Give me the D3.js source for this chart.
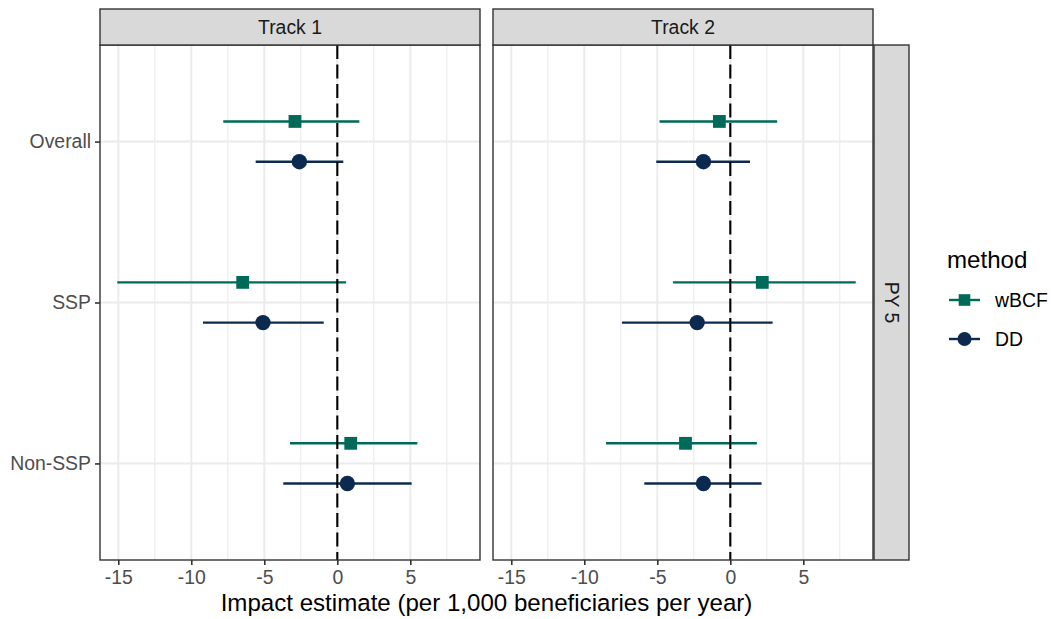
<!DOCTYPE html>
<html>
<head>
<meta charset="utf-8">
<script src="https://cdn.jsdelivr.net/npm/d3@7"></script>
<style>
  html, body { margin: 0; padding: 0; background: #ffffff; }
  svg { display: block; }
  text { font-family: "Liberation Sans", Arial, Helvetica, sans-serif; }
</style>
</head>
<body>
<svg id="chart" width="1051" height="619"></svg>
<script>
// ---------- data ----------
const tracks = ["Track 1", "Track 2"];
const rowStrip = "PY 5";
const categories = ["Overall", "SSP", "Non-SSP"];
const methods = ["wBCF", "DD"];
const xTicks = [-15, -10, -5, 0, 5];
const xMinorTicks = [-12.5, -7.5, -2.5, 2.5, 7.5];

// Track 1
const t1_wBCF_est = [-2.90, -6.48, 0.92];
const t1_wBCF_lo  = [-7.81, -15.07, -3.24];
const t1_wBCF_hi  = [1.51, 0.60, 5.48];
const t1_DD_est   = [-2.60, -5.09, 0.69];
const t1_DD_lo    = [-5.59, -9.20, -3.70];
const t1_DD_hi    = [0.41, -0.93, 5.09];
// Track 2
const t2_wBCF_est = [-0.75, 2.19, -3.07];
const t2_wBCF_lo  = [-4.85, -3.93, -8.51];
const t2_wBCF_hi  = [3.21, 8.59, 1.82];
const t2_DD_est   = [-1.84, -2.27, -1.84];
const t2_DD_lo    = [-5.07, -7.42, -5.89];
const t2_DD_hi    = [1.35, 2.90, 2.14];

const xTitle = "Impact estimate (per 1,000 beneficiaries per year)";
const legendTitle = "method";
const colors = { wBCF: "#006a59", DD: "#0c2a50" };

// ---------- build rows ----------
const series = {
  "Track 1": { wBCF: [t1_wBCF_est, t1_wBCF_lo, t1_wBCF_hi], DD: [t1_DD_est, t1_DD_lo, t1_DD_hi] },
  "Track 2": { wBCF: [t2_wBCF_est, t2_wBCF_lo, t2_wBCF_hi], DD: [t2_DD_est, t2_DD_lo, t2_DD_hi] }
};
const rows = [];
tracks.forEach(t => methods.forEach(m => categories.forEach((c, i) => {
  const s = series[t][m];
  rows.push({ track: t, method: m, cat: c, est: s[0][i], lo: s[1][i], hi: s[2][i] });
})));

// ---------- layout ----------
const svg = d3.select("#chart");
const panelTop = 45, panelBottom = 560, panelW = 380;
const panelX = [100, 493];
const stripTop = 9;
const fontTick = 19.4, fontTitle = 24.1;

const allLo = d3.min(rows, d => d.lo), allHi = d3.max(rows, d => d.hi);
const pad = (allHi - allLo) * 0.05;
const xDomain = [allLo - pad, allHi + pad];

const y = d3.scalePoint().domain(categories).range([panelTop, panelBottom]).padding(0.6);
const dodge = { wBCF: -0.125 * y.step(), DD: 0.125 * y.step() };

tracks.forEach((t, pi) => {
  const x0 = panelX[pi];
  const x = d3.scaleLinear().domain(xDomain).range([x0, x0 + panelW]);
  const g = svg.append("g");

  g.append("rect").attr("x", x0).attr("y", panelTop).attr("width", panelW)
    .attr("height", panelBottom - panelTop).attr("fill", "#ffffff");

  g.selectAll(".minor").data(xMinorTicks).join("line")
    .attr("x1", d => x(d)).attr("x2", d => x(d))
    .attr("y1", panelTop).attr("y2", panelBottom)
    .attr("stroke", "#ebebeb").attr("stroke-width", 1.1);
  g.selectAll(".major").data(xTicks).join("line")
    .attr("x1", d => x(d)).attr("x2", d => x(d))
    .attr("y1", panelTop).attr("y2", panelBottom)
    .attr("stroke", "#ebebeb").attr("stroke-width", 2);
  g.selectAll(".hmajor").data(categories).join("line")
    .attr("x1", x0).attr("x2", x0 + panelW)
    .attr("y1", d => y(d)).attr("y2", d => y(d))
    .attr("stroke", "#ebebeb").attr("stroke-width", 2);

  const pr = rows.filter(r => r.track === t);
  g.selectAll(".err").data(pr).join("line")
    .attr("x1", d => x(d.lo)).attr("x2", d => x(d.hi))
    .attr("y1", d => y(d.cat) + dodge[d.method]).attr("y2", d => y(d.cat) + dodge[d.method])
    .attr("stroke", d => colors[d.method]).attr("stroke-width", 2.4);

  g.selectAll(".sq").data(pr.filter(d => d.method === "wBCF")).join("rect")
    .attr("x", d => x(d.est) - 6.4).attr("y", d => y(d.cat) + dodge[d.method] - 6.4)
    .attr("width", 12.8).attr("height", 12.8).attr("fill", colors.wBCF);
  g.selectAll(".ci").data(pr.filter(d => d.method === "DD")).join("circle")
    .attr("cx", d => x(d.est)).attr("cy", d => y(d.cat) + dodge[d.method])
    .attr("r", 7.7).attr("fill", colors.DD);

  g.append("line").attr("x1", x(0)).attr("x2", x(0))
    .attr("y1", panelTop).attr("y2", panelBottom)
    .attr("stroke", "#000").attr("stroke-width", 2.1).attr("stroke-dasharray", "14,5.5");

  g.append("rect").attr("x", x0).attr("y", panelTop).attr("width", panelW)
    .attr("height", panelBottom - panelTop).attr("fill", "none")
    .attr("stroke", "#333333").attr("stroke-width", 1.4);

  g.append("rect").attr("x", x0).attr("y", stripTop).attr("width", panelW)
    .attr("height", panelTop - stripTop).attr("fill", "#d9d9d9")
    .attr("stroke", "#333333").attr("stroke-width", 1.4);
  g.append("text").attr("x", x0 + panelW / 2).attr("y", (stripTop + panelTop) / 2)
    .attr("text-anchor", "middle").attr("dominant-baseline", "central")
    .attr("font-size", fontTick).attr("fill", "#1a1a1a").text(t);

  const xAxis = d3.axisBottom(x).tickValues(xTicks).tickSize(5).tickPadding(5).tickFormat(d3.format("d"));
  const ax = g.append("g").attr("transform", `translate(0,${panelBottom})`).call(xAxis);
  ax.select(".domain").remove();
  ax.selectAll(".tick line").attr("stroke", "#333333").attr("stroke-width", 1.6);
  ax.selectAll(".tick text").attr("font-size", fontTick).attr("fill", "#4d4d4d")
    .attr("font-family", "Liberation Sans, Arial, sans-serif")
    .text(d => (d < 0 ? "-" + Math.abs(d) : d));

  if (pi === 0) {
    const yAxis = d3.axisLeft(y).tickSize(5).tickPadding(4);
    const ay = g.append("g").attr("transform", `translate(${x0},0)`).call(yAxis);
    ay.select(".domain").remove();
    ay.selectAll(".tick line").attr("stroke", "#333333").attr("stroke-width", 1.6);
    ay.selectAll(".tick text").attr("font-size", fontTick).attr("fill", "#4d4d4d")
      .attr("font-family", "Liberation Sans, Arial, sans-serif");
  }
});

const rsX = 874, rsW = 35;
svg.append("rect").attr("x", rsX).attr("y", panelTop).attr("width", rsW)
  .attr("height", panelBottom - panelTop).attr("fill", "#d9d9d9")
  .attr("stroke", "#333333").attr("stroke-width", 1.4);
svg.append("text")
  .attr("transform", `translate(${rsX + rsW / 2},${(panelTop + panelBottom) / 2}) rotate(90)`)
  .attr("text-anchor", "middle").attr("dominant-baseline", "central")
  .attr("font-size", fontTick).attr("fill", "#1a1a1a").text(rowStrip);

svg.append("text").attr("x", (panelX[0] + panelX[1] + panelW) / 2).attr("y", 611)
  .attr("text-anchor", "middle").attr("font-size", fontTitle).attr("fill", "#000")
  .text(xTitle);

const lg = svg.append("g");
lg.append("text").attr("x", 947).attr("y", 268).attr("font-size", fontTitle).attr("fill", "#000").text(legendTitle);
const legY = d3.scalePoint().domain(methods).range([300, 339]);
methods.forEach(m => {
  const cy = legY(m);
  lg.append("line").attr("x1", 949).attr("x2", 980).attr("y1", cy).attr("y2", cy)
    .attr("stroke", colors[m]).attr("stroke-width", 2.4);
  if (m === "wBCF") {
    lg.append("rect").attr("x", 964.5 - 5.8).attr("y", cy - 5.8).attr("width", 11.6).attr("height", 11.6).attr("fill", colors[m]);
  } else {
    lg.append("circle").attr("cx", 964.5).attr("cy", cy).attr("r", 7).attr("fill", colors[m]);
  }
  lg.append("text").attr("x", 995).attr("y", cy).attr("dominant-baseline", "central")
    .attr("font-size", fontTick).attr("fill", "#000").text(m);
});
</script>
</body>
</html>
